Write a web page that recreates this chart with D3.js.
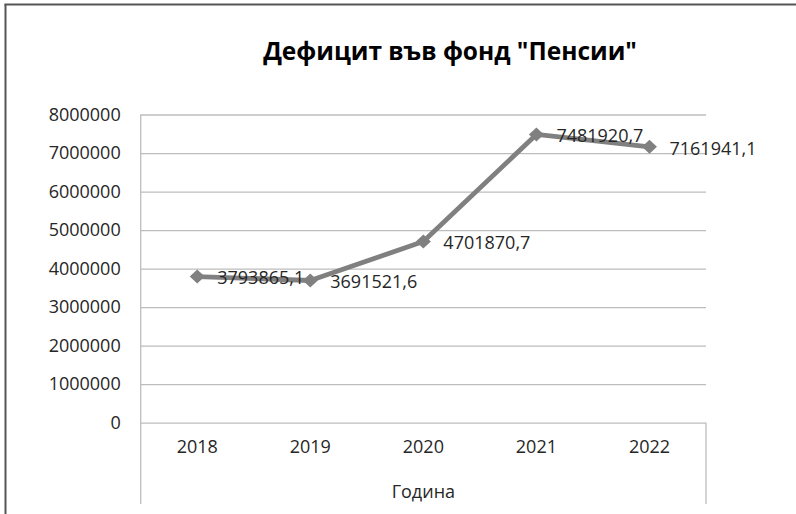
<!DOCTYPE html>
<html>
<head>
<meta charset="utf-8">
<script src="https://cdn.jsdelivr.net/npm/d3@7"></script>
<style>
  html, body { margin: 0; padding: 0; background: #fff; }
  svg { display: block; }
  text { font-family: "Open Sans", "DejaVu Sans", sans-serif; }
</style>
</head>
<body>
<svg id="chart" width="796" height="514"></svg>
<script>
const title = 'Дефицит във фонд "Пенсии"';
const xTitle = 'Година';
const years = ['2018', '2019', '2020', '2021', '2022'];
const deficit = [3793865.1, 3691521.6, 4701870.7, 7481920.7, 7161941.1];
const yTicks = [0, 1000000, 2000000, 3000000, 4000000, 5000000, 6000000, 7000000, 8000000];

(function () {
const data = years.map((yr, i) => ({ year: yr, value: deficit[i] }));
const fmt = v => d3.format('.1f')(v).replace('.', ',');

const svg = d3.select('#chart');
const W = 796, H = 514;
const pLeft = 140.7, pRight = 706, pTop = 114.5, pBottom = 422.7, boxBottom = 504;

const x = d3.scaleBand().domain(years).range([pLeft, pRight]);
const y = d3.scaleLinear().domain([0, 8000000]).range([pBottom, pTop]);

// outer frame (left and top only visible)
svg.append('line').attr('x1', 5.5).attr('x2', 5.5).attr('y1', 4).attr('y2', H)
  .attr('stroke', '#555').attr('stroke-width', 2);
svg.append('line').attr('x1', 4.5).attr('x2', W).attr('y1', 4.5).attr('y2', 4.5)
  .attr('stroke', '#555').attr('stroke-width', 2);

// title
svg.append('text').attr('x', 450).attr('y', 60).attr('text-anchor', 'middle')
  .attr('font-size', 24.5).attr('font-weight', 700).attr('fill', '#000').text(title);

// gridlines
const yAxis = d3.axisLeft(y).tickValues(yTicks).tickSize(-(pRight - pLeft)).tickPadding(20)
  .tickFormat(d3.format('d'));
const gy = svg.append('g').attr('transform', `translate(${pLeft},0)`).call(yAxis);
gy.select('.domain').remove();
gy.selectAll('.tick line').attr('stroke', '#bdbdbd').attr('stroke-width', 1.3);
gy.selectAll('.tick text').attr('font-size', 18).attr('fill', '#262626')
  .attr('font-family', '"Open Sans", sans-serif');

// left axis line & lower box
svg.append('line').attr('x1', pLeft).attr('x2', pLeft).attr('y1', pTop).attr('y2', boxBottom)
  .attr('stroke', '#bdbdbd').attr('stroke-width', 1.3);
svg.append('line').attr('x1', pRight).attr('x2', pRight).attr('y1', pBottom).attr('y2', boxBottom)
  .attr('stroke', '#bdbdbd').attr('stroke-width', 1.3);

// x axis labels
const xAxis = d3.axisBottom(x).tickSize(0).tickPadding(18);
const gx = svg.append('g').attr('transform', `translate(0,${pBottom})`).call(xAxis);
gx.select('.domain').remove();
gx.selectAll('.tick text').attr('font-size', 18).attr('fill', '#262626')
  .attr('font-family', '"Open Sans", sans-serif');

// x title
svg.append('text').attr('x', (pLeft + pRight) / 2).attr('y', 498).attr('text-anchor', 'middle')
  .attr('font-size', 18).attr('fill', '#262626').text(xTitle);

// line
const cx = d => x(d.year) + x.bandwidth() / 2;
const line = d3.line().x(cx).y(d => y(d.value));
svg.append('path').datum(data).attr('d', line).attr('fill', 'none')
  .attr('stroke', '#808080').attr('stroke-width', 4.8).attr('stroke-linejoin', 'round');

// markers
svg.selectAll('.mk').data(data).enter().append('path').attr('class', 'mk')
  .attr('d', 'M0,-7 L7.5,0 L0,7 L-7.5,0 Z')
  .attr('transform', d => `translate(${cx(d)},${y(d.value)})`)
  .attr('fill', '#808080');

// data labels
svg.selectAll('.lbl').data(data).enter().append('text').attr('class', 'lbl')
  .attr('x', d => cx(d) + 20).attr('y', d => y(d.value) + 1.5)
  .attr('dy', '0.35em').attr('font-size', 18).attr('fill', '#262626')
  .text(d => fmt(d.value));
})();
</script>
</body>
</html>
